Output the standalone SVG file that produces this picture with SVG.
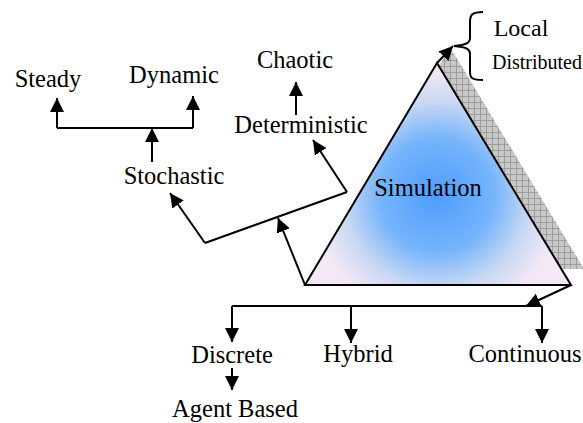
<svg xmlns="http://www.w3.org/2000/svg" width="583" height="423" viewBox="0 0 583 423">
<style>
  text { font-family: "Liberation Serif", "Times New Roman", serif; font-size: 24.5px; fill: #000; text-anchor: middle; }
  .ln { fill: none; stroke: #000; stroke-width: 2; }
  .arr { marker-end: url(#ah); }
</style>
<defs>
  <marker id="ah" markerUnits="userSpaceOnUse" markerWidth="16" markerHeight="16" refX="14" refY="7" orient="auto">
    <path d="M0,0 L14,7 L0,14 Z" fill="#000"/>
  </marker>
  <pattern id="hatch" patternUnits="userSpaceOnUse" width="6" height="6">
    <rect width="6" height="6" fill="#c8c8c8"/>
    <path d="M0,0.5 H6 M0.5,0 V6" stroke="#939393" stroke-width="0.8"/>
  </pattern>
  <radialGradient id="tri" gradientUnits="userSpaceOnUse" cx="437" cy="195" r="125">
    <stop offset="0" stop-color="#4f9cff"/>
    <stop offset="0.45" stop-color="#74b4fb"/>
    <stop offset="0.75" stop-color="#c9d8f3"/>
    <stop offset="1" stop-color="#f4e8f6"/>
  </radialGradient>
</defs>

<g id="simulation">
  <polygon points="450,47 584,269 318,269" fill="url(#hatch)"/>
  <polygon points="437,63 305,285 571,285" fill="url(#tri)" stroke="#000" stroke-width="2" stroke-linejoin="miter"/>
  <text x="428" y="196">Simulation</text>
</g>

<g id="steady"><text x="48" y="87">Steady</text></g>
<g id="dynamic"><text x="174" y="83">Dynamic</text></g>
<g id="chaotic"><text x="295" y="68">Chaotic</text></g>
<g id="deterministic"><text x="301" y="133">Deterministic</text></g>
<g id="stochastic"><text x="174" y="184">Stochastic</text></g>
<g id="local"><text x="521" y="36" style="font-size:24px">Local</text></g>
<g id="distributed"><text x="537" y="69" style="font-size:20px">Distributed</text></g>
<g id="discrete"><text x="232" y="363">Discrete</text></g>
<g id="hybrid"><text x="358" y="362">Hybrid</text></g>
<g id="continuous"><text x="525" y="362">Continuous</text></g>
<g id="agent-based"><text x="235" y="417">Agent Based</text></g>

<g id="connectors">
  <path class="ln" d="M57,128 H193"/>
  <path class="ln arr" d="M57,128 V98"/>
  <path class="ln arr" d="M193,128 V96"/>
  <path class="ln arr" d="M152,162 V128"/>
  <path class="ln arr" d="M296,115 V82"/>
  <path class="ln arr" d="M305,285 L278,218"/>
  <path class="ln" d="M205,243 L347,192"/>
  <path class="ln arr" d="M205,243 L170,193"/>
  <path class="ln arr" d="M347,192 L313,140"/>
  <path class="ln arr" d="M437,63 L453,46"/>
  <path class="ln" d="M483,12 C472,12 470,15 470,22 V38 C470,43 466,45 454,46 C466,47 470,49 470,54 V72 C470,78 472,80 483,80" stroke-width="1.8"/>
  <path class="ln arr" d="M571,285 L526,306"/>
  <path class="ln" d="M232,306 H542"/>
  <path class="ln arr" d="M232,306 V342"/>
  <path class="ln arr" d="M351,306 V343"/>
  <path class="ln arr" d="M542,306 V343"/>
  <path class="ln arr" d="M232,368 V390"/>
</g>
</svg>
